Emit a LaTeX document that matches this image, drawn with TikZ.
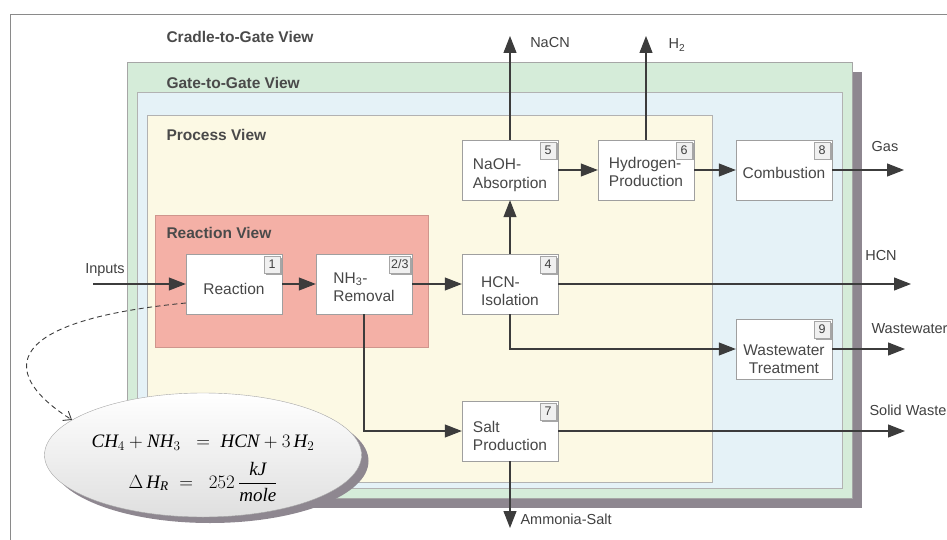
\documentclass[tikz,border=0pt]{standalone}
\usepackage{amsmath}
\usepackage{fix-cm}
\usepackage{fontspec}
\setmainfont{Liberation Sans}
\newfontfamily\eqfont{Liberation Serif}
\usetikzlibrary{arrows.meta,positioning,calc,shapes.geometric,shadows}
\definecolor{ctgline}{HTML}{8A8A8A}
\definecolor{ggreen}{HTML}{D5ECD9}
\definecolor{gblue}{HTML}{E5F2F7}
\definecolor{pyellow}{HTML}{FCF9E4}
\definecolor{rred}{HTML}{F4B0A6}
\definecolor{shadowgray}{HTML}{8E8790}
\definecolor{viewtext}{HTML}{4A4A4A}
\definecolor{flowline}{HTML}{3C3C3C}
\newcommand\eqi[1]{\text{\eqfont\itshape #1}}

\begin{document}
\begin{tikzpicture}[x=1pt, y=-1pt,
    unit/.style={rectangle, draw=gray!75, fill=white, minimum width=96pt, minimum height=60pt},
    utext/.style={align=left, inner sep=0pt, font=\fontsize{15.5}{18.5}\selectfont, text=black!72},
    tag/.style={rectangle, draw=gray!70, fill=gray!12, inner sep=1.5pt, minimum height=17pt,
                minimum width=16pt, font=\fontsize{12.5}{13}\selectfont, text=black!75,
                drop shadow={shadow xshift=1.5pt, shadow yshift=-1.5pt, fill=gray!70, opacity=1}},
    view/.style={anchor=west, font=\fontsize{15.5}{17}\selectfont\bfseries, text=viewtext},
    outlbl/.style={font=\fontsize{14.5}{16}\selectfont, text=black!75},
    flow/.style={-{Triangle[length=17pt, width=13pt]}, line width=1.1pt, flowline},
    eqbubble/.style={ellipse, draw=gray!70, top color=white, bottom color=gray!25,
                     minimum width=317pt, minimum height=124pt,
                     drop shadow={shadow xshift=7pt, shadow yshift=-6pt, fill=shadowgray, opacity=1}},
    eqtext/.style={align=center, font=\fontsize{19}{22}\selectfont},
]
    \clip (0,0) rectangle (947,540);
    % Nested views
    \draw[ctgline, line width=1pt] (10,15) rectangle (970,560);
    \fill[shadowgray] (137,72) rectangle (862,508);
    \filldraw[fill=ggreen, draw=gray!70] (127,62) rectangle (852,498);
    \filldraw[fill=gblue, draw=gray!60] (137,92) rectangle (842,488);
    \filldraw[fill=pyellow, draw=gray!60] (147,115) rectangle (712,482);
    \filldraw[fill=rred, draw=rred!85!black] (155,215) rectangle (428,347);
    \node[view] (ctgview) at (163,37)  {Cradle-to-Gate View};
    \node[view] (ggview)  at (163,83)  {Gate-to-Gate View};
    \node[view] (prview)  at (163,135) {Process View};
    \node[view] (rxview)  at (163,233) {Reaction View};

    % Process units
    \node[unit, label={[utext, yshift=-5pt]center:Reaction}] (react) at (234,284) {};
    \node[unit, label={[utext, yshift=-3pt]center:{NH\textsubscript{3}-\\Removal}}] (nhrem) at (364,284) {};
    \node[unit, label={[utext, yshift=-7pt]center:{HCN-\\Isolation}}] (hcniso) at (510,284) {};
    \node[unit, label={[utext, yshift=-5pt]center:{NaOH-\\Absorption}}] (naoh) at (510,170) {};
    \node[unit, label={[utext, yshift=-2pt]center:{Hydrogen-\\Production}}] (hydro) at (646,170) {};
    \node[unit, label={[utext, yshift=-3pt]center:Combustion}] (combust) at (784,170) {};
    \node[unit, label={[utext, align=center, yshift=-10pt]center:{Wastewater\\Treatment}}] (wwtreat) at (784,349) {};
    \node[unit, label={[utext, yshift=-5pt]center:{Salt\\Production}}] (saltprod) at (510,431) {};

    % Unit numbers
    \node[tag, anchor=north east] (t1) at ([xshift=-2pt, yshift=-2pt]react.north east) {1};
    \node[tag, anchor=north east] (t23) at ([xshift=-2pt, yshift=-2pt]nhrem.north east) {2/3};
    \node[tag, anchor=north east] (t4) at ([xshift=-2pt, yshift=-2pt]hcniso.north east) {4};
    \node[tag, anchor=north east] (t5) at ([xshift=-2pt, yshift=-2pt]naoh.north east) {5};
    \node[tag, anchor=north east] (t6) at ([xshift=-2pt, yshift=-2pt]hydro.north east) {6};
    \node[tag, anchor=north east] (t7) at ([xshift=-2pt, yshift=-2pt]saltprod.north east) {7};
    \node[tag, anchor=north east] (t8) at ([xshift=-2pt, yshift=-2pt]combust.north east) {8};
    \node[tag, anchor=north east] (t9) at ([xshift=-2pt, yshift=-2pt]wwtreat.north east) {9};

    % Free ends of the streams
    \coordinate (inputsin) at (93,284);
    \coordinate (nacnout)  at (510,36);
    \coordinate (htwoout)  at (646,36);
    \coordinate (gasout)   at (904,170);
    \coordinate (hcnout)   at (911,284);
    \coordinate (wwout)    at (905,349);
    \coordinate (swout)    at (905,431);
    \coordinate (amsaltout) at (510,528);

    % Streams
    \draw[flow] (inputsin) -- (react.west);
    \draw[flow] (react) -- (nhrem);
    \draw[flow] (nhrem) -- (hcniso);
    \draw[flow] (hcniso) -- (hcnout);
    \draw[flow] (hcniso) -- (naoh);
    \draw[flow] (naoh) -- (nacnout);
    \draw[flow] (naoh) -- (hydro);
    \draw[flow] (hydro) -- (htwoout);
    \draw[flow] (hydro) -- (combust);
    \draw[flow] (combust) -- (gasout);
    \draw[flow] (hcniso.south) |- (wwtreat.west);
    \draw[flow] (wwtreat) -- (wwout);
    \draw[flow] (nhrem.south) |- (saltprod.west);
    \draw[flow] (saltprod) -- (swout);
    \draw[flow] (saltprod) -- (amsaltout);

    % Stream labels
    \node[outlbl] (inputslbl) at (105,270) {Inputs};
    \node[outlbl] (nacnlbl) at (550,43) {NaCN};
    \node[outlbl] (htwolbl) at (677,45) {H\textsubscript{2}};
    \node[outlbl] (gaslbl) at (885,147) {Gas};
    \node[outlbl] (hcnlbl) at (881,256) {HCN};
    \node[outlbl, anchor=west] (wwlbl) at (868,329) {Wastewater};
    \node[outlbl, anchor=west] (swlbl) at (866,410) {Solid Waste};
    \node[outlbl, anchor=west] (amsaltlbl) at (517,519) {Ammonia-Salt};

    % Reaction equation
    \node[eqbubble] (eq) at (203,455) {};
    \node[eqtext] (eqtext) at (203,468) {%
        $\eqi{CH}_4 + \eqi{NH}_3 \;\;=\; \eqi{HCN} + 3\,\eqi{H}_2$\\[11pt]
        $\Delta\,\eqi{H}_{\eqi{R}} \;=\;\; 252\,\dfrac{\eqi{kJ}}{\eqi{mole}}$};
    \draw[dashed, dash pattern=on 5pt off 3.5pt, line width=0.9pt, flowline,
          -{Straight Barb[length=7pt, width=11pt]}]
        ([yshift=-19pt]react.west) .. controls (-10,322) and (5,378) .. (eq.165);
\end{tikzpicture}
\end{document}
